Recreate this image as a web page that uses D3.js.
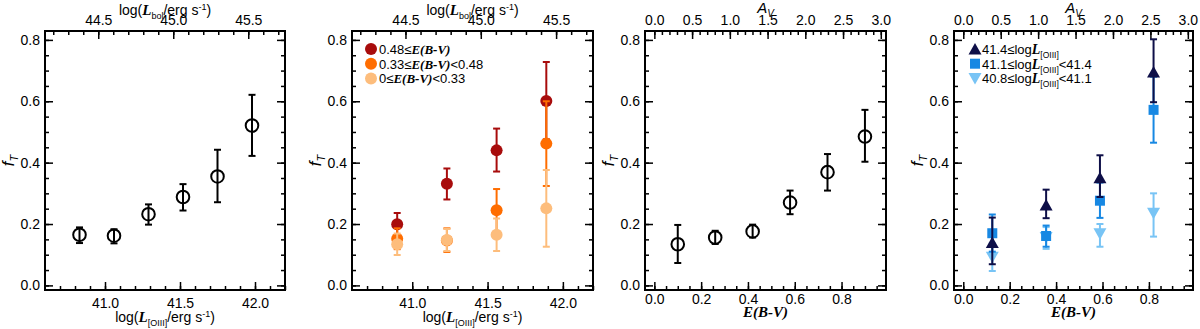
<!DOCTYPE html>
<html>
<head>
<meta charset="utf-8">
<script src="https://cdn.jsdelivr.net/npm/d3@7"></script>
<style>
body { margin: 0; background: #fff; }
text { font-family: "Liberation Sans", Arial, sans-serif; fill: #000; }
</style>
</head>
<body>
<script>
// ---- values ----
// panel 1: f_T vs log L[OIII]
var lumBins = [40.83, 41.06, 41.29, 41.52, 41.75, 41.98];
var fLum = [0.165, 0.162, 0.232, 0.288, 0.355, 0.521];
var fLumLo = [0.138, 0.137, 0.198, 0.244, 0.271, 0.422];
var fLumHi = [0.189, 0.183, 0.264, 0.330, 0.442, 0.621];

// panel 2: split by E(B-V)
var lumBins2 = [40.90, 41.23, 41.56, 41.89];
var ebvHigh = [0.199, 0.331, 0.440, 0.601];
var ebvHighLo = [0.162, 0.280, 0.371, 0.476];
var ebvHighHi = [0.236, 0.381, 0.511, 0.728];
var ebvMid = [0.152, 0.146, 0.245, 0.462];
var ebvMidLo = [0.118, 0.109, 0.175, 0.324];
var ebvMidHi = [0.186, 0.186, 0.314, 0.600];
var ebvLow = [0.134, 0.148, 0.165, 0.251];
var ebvLowLo = [0.099, 0.112, 0.112, 0.126];
var ebvLowHi = [0.169, 0.184, 0.218, 0.376];

// panel 3: f_T vs E(B-V)
var ebvBins = [0.10, 0.26, 0.42, 0.58, 0.74, 0.90];
var fEbv = [0.134, 0.156, 0.176, 0.270, 0.369, 0.485];
var fEbvLo = [0.073, 0.135, 0.156, 0.232, 0.309, 0.403];
var fEbvHi = [0.197, 0.178, 0.198, 0.309, 0.428, 0.572];

// panel 4: split by L[OIII]
var ebvBins2 = [0.125, 0.357, 0.589, 0.820];
var lumHigh = [0.140, 0.262, 0.351, 0.695];
var lumHighLo = [0.069, 0.219, 0.288, 0.597];
var lumHighHi = [0.221, 0.312, 0.424, 0.802];
var lumMid = [0.170, 0.161, 0.276, 0.572];
var lumMidLo = [0.110, 0.126, 0.220, 0.465];
var lumMidHi = [0.231, 0.195, 0.335, 0.680];
var lumLow = [0.092, 0.156, 0.168, 0.235];
var lumLowLo = [0.047, 0.119, 0.126, 0.159];
var lumLowHi = [0.137, 0.190, 0.200, 0.300];

// tick labels
var yTicks = [0.0, 0.2, 0.4, 0.6, 0.8];
var lumTicks = [41.0, 41.5, 42.0];
var lbolTicks = [44.5, 45.0, 45.5];
var ebvTicks = [0.0, 0.2, 0.4, 0.6, 0.8];
var avTicks = [0.0, 0.5, 1.0, 1.5, 2.0, 2.5, 3.0];

var w = 1200, h = 329;
var plotTop = 31, plotBottom = 290;
var BOL = 3.545;   // log Lbol = log L[OIII] + 3.545
var RV = 3.1;      // A_V = 3.1 E(B-V)

var svg = d3.select("body").append("svg")
  .attr("width", w)
  .attr("height", h);

var y = d3.scaleLinear().domain([-0.015, 0.829]).range([plotBottom, plotTop]);

function steps(a, b, s) {
  return d3.range(Math.round(a / s), Math.round(b / s) + 1).map(function(i) { return +(i * s).toFixed(3); });
}

function style(g) {
  g.select(".domain").remove();
  g.selectAll("line").attr("stroke", "#000").attr("stroke-width", 1.5);
  g.selectAll("text").attr("font-size", "14px").attr("fill", "#000")
    .attr("font-family", "Liberation Sans, Arial, sans-serif");
}

function frame(x0, x1, x, xTop, xMajor, xMinor, topMajor, topMinor, pad) {
  var g = svg.append("g");
  var fmt = d3.format(".1f");

  g.append("g").attr("transform", "translate(0," + plotBottom + ")")
    .call(d3.axisBottom(x).tickValues(xMajor).tickFormat(fmt).tickSizeInner(-8).tickSizeOuter(0).tickPadding(pad))
    .call(style);
  g.append("g").attr("transform", "translate(0," + plotBottom + ")")
    .call(d3.axisBottom(x).tickValues(xMinor).tickFormat("").tickSizeInner(-4).tickSizeOuter(0))
    .call(style);
  g.append("g").attr("transform", "translate(0," + plotTop + ")")
    .call(d3.axisTop(xTop).tickValues(topMajor).tickFormat(fmt).tickSizeInner(-8).tickSizeOuter(0).tickPadding(6))
    .call(style);
  g.append("g").attr("transform", "translate(0," + plotTop + ")")
    .call(d3.axisTop(xTop).tickValues(topMinor).tickFormat("").tickSizeInner(-4).tickSizeOuter(0))
    .call(style);

  g.append("g").attr("transform", "translate(" + x0 + ",0)")
    .call(d3.axisLeft(y).tickValues(yTicks).tickFormat(fmt).tickSizeInner(-8).tickSizeOuter(0).tickPadding(5))
    .call(style);
  g.append("g").attr("transform", "translate(" + x0 + ",0)")
    .call(d3.axisLeft(y).tickValues(steps(0, 0.8, 0.05)).tickFormat("").tickSizeInner(-4).tickSizeOuter(0))
    .call(style);
  g.append("g").attr("transform", "translate(" + x1 + ",0)")
    .call(d3.axisRight(y).tickValues(yTicks).tickFormat("").tickSizeInner(-8).tickSizeOuter(0))
    .call(style);
  g.append("g").attr("transform", "translate(" + x1 + ",0)")
    .call(d3.axisRight(y).tickValues(steps(0, 0.8, 0.05)).tickFormat("").tickSizeInner(-4).tickSizeOuter(0))
    .call(style);

  g.append("rect")
    .attr("x", x0).attr("y", plotTop)
    .attr("width", x1 - x0).attr("height", plotBottom - plotTop)
    .attr("fill", "none").attr("stroke", "#000").attr("stroke-width", 2);

  // y label f_T
  var t = g.append("text")
    .attr("transform", "translate(" + (x0 - 31) + "," + ((plotTop + plotBottom) / 2) + ") rotate(-90)")
    .attr("text-anchor", "middle")
    .attr("font-family", "Liberation Serif, serif")
    .attr("font-style", "italic")
    .attr("font-size", "17px");
  t.append("tspan").text("f");
  t.append("tspan").attr("dy", 4).attr("font-size", "11px").text("T");
  return g;
}

// log(L_sub/erg s^-1) style title
function lumTitle(cx, yy, sub) {
  var t = svg.append("text").attr("x", cx).attr("y", yy)
    .attr("text-anchor", "middle").attr("font-size", "14px");
  t.append("tspan").text("log(");
  t.append("tspan").attr("font-family", "Liberation Serif, serif")
    .attr("font-style", "italic").attr("font-weight", "bold").attr("font-size", "15px").text("L");
  t.append("tspan").attr("dy", 4).attr("font-size", "9px").text(sub);
  t.append("tspan").attr("dy", -4).text("/erg s");
  t.append("tspan").attr("dy", -5).attr("font-size", "9px").text("-1");
  t.append("tspan").attr("dy", 5).text(")");
}

function ebvText(t) {
  t.append("tspan").attr("font-family", "Liberation Serif, serif")
    .attr("font-style", "italic").attr("font-weight", "bold").text("E(B-V)");
}

function errorBars(g, x, xs, lo, hi, color, width) {
  var cap = 3.5;
  xs.forEach(function(d, i) {
    var px = x(d);
    g.append("line").attr("x1", px).attr("x2", px).attr("y1", y(lo[i])).attr("y2", y(hi[i]))
      .attr("stroke", color).attr("stroke-width", width);
    [lo[i], hi[i]].forEach(function(v) {
      g.append("line").attr("x1", px - cap).attr("x2", px + cap).attr("y1", y(v)).attr("y2", y(v))
        .attr("stroke", color).attr("stroke-width", width);
    });
  });
}

function marker(g, shape, px, py, color) {
  if (shape === "circle") {
    g.append("circle").attr("cx", px).attr("cy", py).attr("r", 6).attr("fill", color);
  } else if (shape === "open") {
    g.append("circle").attr("cx", px).attr("cy", py).attr("r", 6.3)
      .attr("fill", "none").attr("stroke", color).attr("stroke-width", 2);
  } else if (shape === "square") {
    g.append("rect").attr("x", px - 5).attr("y", py - 5).attr("width", 10).attr("height", 10).attr("fill", color);
  } else if (shape === "up") {
    g.append("path").attr("d", "M" + px + "," + (py - 6) + "L" + (px + 6.5) + "," + (py + 5.5) + "L" + (px - 6.5) + "," + (py + 5.5) + "Z")
      .attr("fill", color);
  } else if (shape === "down") {
    g.append("path").attr("d", "M" + px + "," + (py + 6) + "L" + (px + 6.5) + "," + (py - 5.5) + "L" + (px - 6.5) + "," + (py - 5.5) + "Z")
      .attr("fill", color);
  }
}

function series(g, x, xs, vals, lo, hi, color, shape) {
  errorBars(g, x, xs, lo, hi, color, 2);
  xs.forEach(function(d, i) { marker(g, shape, x(d), y(vals[i]), color); });
}

// ---- panels 1 & 2 (luminosity) ----
var lumPanels = [[45, 285], [352, 593]];
lumPanels.forEach(function(p, k) {
  var x = d3.scaleLinear().domain([40.6, 42.2]).range(p);
  var xTop = d3.scaleLinear().domain([40.6 + BOL, 42.2 + BOL]).range(p);
  var g = frame(p[0], p[1], x, xTop, lumTicks, steps(40.7, 42.2, 0.1), lbolTicks, steps(44.2, 45.7, 0.1), 8);
  var cx = (p[0] + p[1]) / 2;
  lumTitle(cx, 322, "[OIII]");
  lumTitle(cx, 15, "bol");

  if (k === 0) {
    errorBars(g, x, lumBins, fLumLo, fLumHi, "#000", 2);
    lumBins.forEach(function(d, i) { marker(g, "open", x(d), y(fLum[i]), "#000"); });
  } else {
    var s2 = [
      { v: ebvHigh, lo: ebvHighLo, hi: ebvHighHi, c: "#a80c0c", lab: ["0.48\u2264", ""] },
      { v: ebvMid, lo: ebvMidLo, hi: ebvMidHi, c: "#ff6d00", lab: ["0.33\u2264", "<0.48"] },
      { v: ebvLow, lo: ebvLowLo, hi: ebvLowHi, c: "#fdbd7c", lab: ["0\u2264", "<0.33"] }
    ];
    s2.forEach(function(s, j) {
      series(g, x, lumBins2, s.v, s.lo, s.hi, s.c, "circle");
      var ly = 49 + j * 14.7;
      marker(g, "circle", p[0] + 19, ly, s.c);
      var t = g.append("text").attr("x", p[0] + 27).attr("y", ly + 5).attr("font-size", "13px");
      t.append("tspan").text(s.lab[0]);
      ebvText(t);
      t.append("tspan").text(s.lab[1]);
    });
  }
});

// ---- panels 3 & 4 (extinction) ----
var ebvPanels = [[645, 886], [954, 1193]];
ebvPanels.forEach(function(p, k) {
  var x = d3.scaleLinear().domain([-0.04, 0.99]).range(p);
  var xTop = d3.scaleLinear().domain([-0.04 * RV, 0.99 * RV]).range(p);
  var g = frame(p[0], p[1], x, xTop, ebvTicks, steps(0, 0.95, 0.05), avTicks, steps(0, 3.0, 0.1), 4);
  var cx = (p[0] + p[1]) / 2;
  var bt = svg.append("text").attr("x", cx).attr("y", 317).attr("text-anchor", "middle").attr("font-size", "15px");
  ebvText(bt);
  var at = svg.append("text").attr("x", cx).attr("y", 13).attr("text-anchor", "middle")
    .attr("font-family", "Liberation Serif, serif").attr("font-style", "italic").attr("font-size", "15px");
  at.append("tspan").text("A");
  at.append("tspan").attr("dy", 4).attr("font-size", "10px").text("V");

  if (k === 0) {
    errorBars(g, x, ebvBins, fEbvLo, fEbvHi, "#000", 2);
    ebvBins.forEach(function(d, i) { marker(g, "open", x(d), y(fEbv[i]), "#000"); });
  } else {
    var s4 = [
      { v: lumLow, lo: lumLowLo, hi: lumLowHi, c: "#78c4f5", shape: "down", lab: ["40.8\u2264log", "<41.1"], row: 2 },
      { v: lumMid, lo: lumMidLo, hi: lumMidHi, c: "#1788e3", shape: "square", lab: ["41.1\u2264log", "<41.4"], row: 1 },
      { v: lumHigh, lo: lumHighLo, hi: lumHighHi, c: "#0e0f48", shape: "up", lab: ["41.4\u2264log", ""], row: 0 }
    ];
    s4.forEach(function(s) {
      series(g, x, ebvBins2, s.v, s.lo, s.hi, s.c, s.shape);
      var ly = 49 + s.row * 14.7;
      marker(g, s.shape, p[0] + 21, ly, s.c);
      var t = g.append("text").attr("x", p[0] + 28).attr("y", ly + 5).attr("font-size", "13px");
      t.append("tspan").text(s.lab[0]);
      t.append("tspan").attr("font-family", "Liberation Serif, serif")
        .attr("font-style", "italic").attr("font-weight", "bold").attr("font-size", "14px").text("L");
      t.append("tspan").attr("dy", 4).attr("font-size", "8.5px").text("[OIII]");
      t.append("tspan").attr("dy", -4).text(s.lab[1]);
    });
  }
});
</script>
</body>
</html>
